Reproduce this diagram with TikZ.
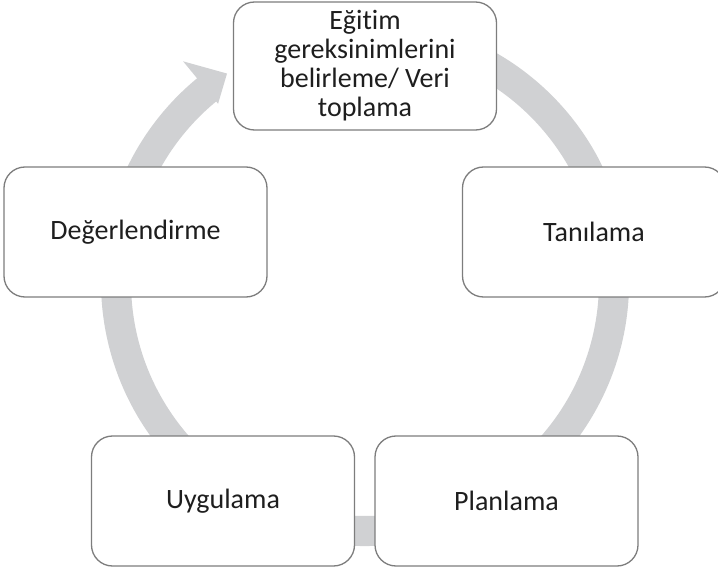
\documentclass[tikz,border=0pt]{standalone}
\usepackage{fontspec}
\setmainfont{Carlito}[Ligatures=NoCommon]
\definecolor{bandgray}{RGB}{208,209,211}
\definecolor{boxline}{RGB}{125,125,125}
\definecolor{textcol}{RGB}{30,30,30}
\begin{document}
\begin{tikzpicture}[x=1pt,y=1pt,
  stagebox/.style={draw=boxline, line width=1.3pt, fill=white, rounded corners=21pt,
    minimum width=263pt, minimum height=130pt, inner sep=0pt, align=center,
    font=\fontsize{28}{29}\selectfont, text=textcol}]
\useasboundingbox (0,0) rectangle (718,574);
\begin{scope}[shift={(365,292)}]
  \fill[bandgray] (100:264pt) arc[start angle=100, end angle=-230.5, radius=264pt]
    -- (-230.5:286pt) -- (123.5:250pt) -- (-230.5:231pt) -- (-230.5:234pt)
    arc[start angle=-230.5, end angle=100, radius=234pt] -- cycle;
\end{scope}
\node[stagebox, minimum height=128pt] (need) at (365,508) {Eğitim\\gereksinimlerini\\belirleme/ Veri\\toplama};
\node[stagebox] (diag) at (594,342) {Tanılama};
\node[stagebox] (plan) at (506.5,73) {Planlama};
\node[stagebox] (apply) at (223,73) {Uygulama};
\node[stagebox] (eval) at (135.5,342) {Değerlendirme};
\end{tikzpicture}
\end{document}
